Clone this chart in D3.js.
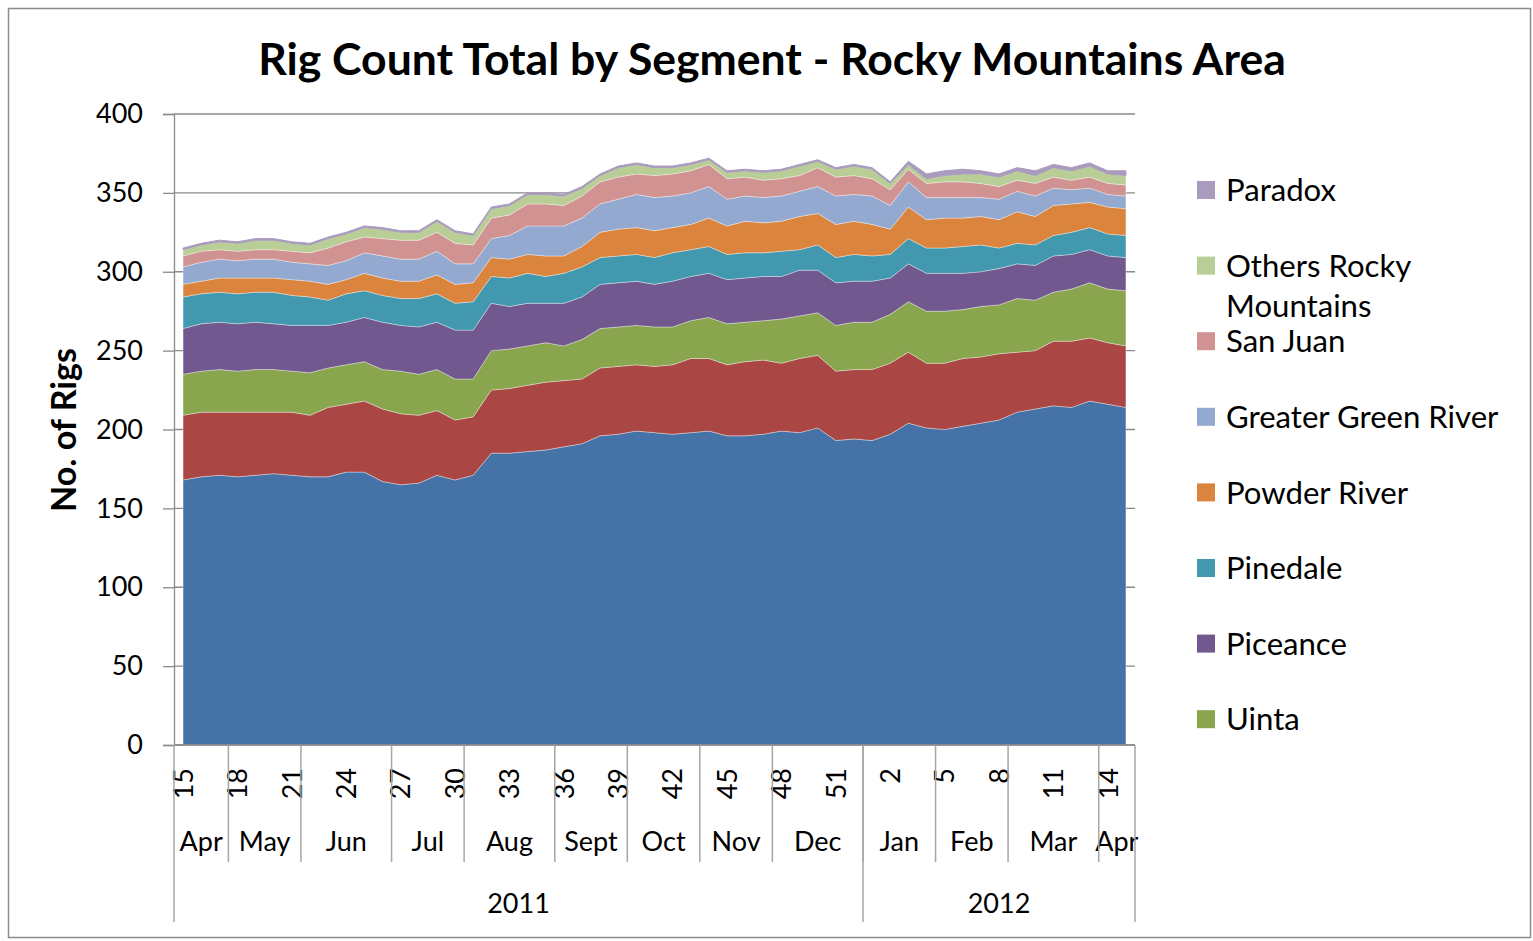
<!DOCTYPE html>
<html><head><meta charset="utf-8">
<script src="https://cdn.jsdelivr.net/npm/d3@7"></script>
<style>
body{margin:0;background:#fff}
text{font-family:Lato,"Open Sans",sans-serif;fill:#000}
</style>
</head><body>
<svg id="c" width="1533" height="941"></svg>
<script>
// ---- category labels ----
const weeks = [15,16,17,18,19,20,21,22,23,24,25,26,27,28,29,30,31,32,33,34,35,36,37,38,39,40,41,42,43,44,45,46,47,48,49,50,51,52,
               1,2,3,4,5,6,7,8,9,10,11,12,13,14,15];
const months = ["Apr","May","Jun","Jul","Aug","Sept","Oct","Nov","Dec","Jan","Feb","Mar","Apr"];
const monthSpans = [3,4,5,4,5,4,4,4,5,4,4,5,2];
const years = ["2011","2012"];
const yearSpans = [38,15];
const yTicks = [0,50,100,150,200,250,300,350,400];

// ---- series values (rigs) ----
const williston = [168,170,171,170,171,172,171,170,170,173,173,167,165,166,171,168,171,185,185,186,187,189,191,196,197,199,198,197,198,199,196,196,197,199,198,201,193,194,193,197,204,201,200,202,204,206,211,213,215,214,218,216,214];
const djNiobrara = [41,41,40,41,40,39,40,39,44,43,45,46,45,43,41,38,37,40,41,42,43,42,41,43,43,42,42,44,47,46,45,47,47,43,47,46,44,44,45,45,45,41,42,43,42,42,38,37,41,42,40,39,39];
const uinta = [26,26,27,26,27,27,26,27,25,25,25,25,27,26,26,26,24,25,25,25,25,22,25,25,25,25,25,24,24,26,26,25,25,28,27,27,29,30,30,31,32,33,33,31,32,31,34,32,31,33,35,34,35];
const piceance = [29,30,30,30,30,29,29,30,27,27,28,30,29,30,30,31,31,30,27,27,25,27,27,28,28,28,27,29,28,28,28,28,28,27,29,27,27,26,26,23,24,24,24,23,22,23,22,22,23,22,21,21,21];
const pinedale = [20,19,19,19,19,20,19,18,16,18,17,17,17,18,18,17,18,17,18,19,17,19,19,17,17,17,17,18,17,17,16,16,15,16,13,16,16,17,16,15,16,16,16,17,17,13,13,13,13,14,14,14,14];
const powderRiver = [8,8,9,10,9,9,10,10,10,9,11,11,11,11,12,12,12,12,12,12,13,11,13,16,17,17,17,16,16,18,18,20,19,19,21,20,21,21,20,16,20,18,19,18,18,18,20,18,19,18,16,17,17];
const greaterGreenRiver = [11,12,12,11,12,12,11,11,12,12,13,14,14,14,15,13,12,12,15,18,19,19,18,18,19,21,21,20,20,20,17,16,16,16,16,17,18,17,18,15,16,14,13,13,12,13,13,13,11,9,9,8,8];
const sanJuan = [7,7,6,6,6,6,7,7,11,12,10,11,12,12,12,13,12,13,13,14,14,13,14,14,14,13,14,14,14,14,13,12,11,11,10,12,12,12,11,10,8,9,10,10,9,8,7,8,7,6,7,7,7];
const othersRocky = [4,4,5,5,6,6,5,5,6,5,6,6,5,5,7,7,6,6,6,6,6,6,5,4,6,6,5,4,4,3,4,4,5,5,6,4,5,6,6,4,3,3,4,5,6,6,6,5,6,6,7,6,6];
const paradox = [1,1,1,1,1,1,1,1,1,1,1,1,1,1,1,1,1,1,1,1,1,1,1,1,1,1,1,1,1,1,1,1,1,1,1,1,1,1,1,1,2,3,3,3,2,2,2,3,2,2,2,2,3];

const seriesNames = ["Williston","DJ-Niobrara","Uinta","Piceance","Pinedale","Powder River","Greater Green River","San Juan","Others Rocky Mountains","Paradox"];
const seriesValues = [williston,djNiobrara,uinta,piceance,pinedale,powderRiver,greaterGreenRiver,sanJuan,othersRocky,paradox];
const colors = ["#4572A7","#AA4643","#89A54E","#71588F","#4198AF","#DB843D","#93A9CF","#D19392","#B9CD96","#A99BBD"];
const legendNames = ["Paradox","Others Rocky Mountains","San Juan","Greater Green River","Powder River","Pinedale","Piceance","Uinta"];

// ---- build table ----
const table = weeks.map((w,i)=>{
  const r = {i:i, week:w};
  seriesNames.forEach((n,k)=>{ r[n] = seriesValues[k][i]; });
  return r;
});
const color = d3.scaleOrdinal().domain(seriesNames).range(colors);

const svg = d3.select("#c");
const L=174, R=1135, T=114, B=745;
const x = d3.scalePoint().domain(d3.range(weeks.length)).range([L,R]).padding(0.5);
const step = x.step();
const y = d3.scaleLinear().domain([0,400]).range([B,T]);
const axisCol = "#8a8a8a";

function fit(sel, target){
  const len = sel.node().getComputedTextLength();
  const fs = parseFloat(sel.attr("font-size"));
  sel.attr("font-size", fs*target/len);
}

// frame
svg.append("rect").attr("x",8.5).attr("y",8.5).attr("width",1522).attr("height",929)
  .attr("fill","none").attr("stroke","#8c8c8c").attr("stroke-width",1.5);

// title
const title = svg.append("text").attr("x",772).attr("y",75).attr("text-anchor","middle")
  .attr("font-weight","bold").attr("font-size",42).text("Rig Count Total by Segment - Rocky Mountains Area");
fit(title, 1028);

// gridlines
svg.append("g").selectAll("line").data(yTicks).join("line")
  .attr("x1",L).attr("x2",R).attr("y1",d=>y(d)).attr("y2",d=>y(d))
  .attr("stroke",axisCol).attr("stroke-width",1.3);

// stacked areas
const stack = d3.stack().keys(seriesNames);
const layers = stack(table);
const area = d3.area().x(d=>x(d.data.i)).y0(d=>y(d[0])).y1(d=>y(d[1]));
svg.append("g").selectAll("path").data(layers).join("path")
  .attr("d",area).attr("fill",d=>color(d.key))
  .attr("stroke",d=>d.key==="Paradox"? "#A99BBD" : "rgba(255,255,255,0.35)")
  .attr("stroke-width",1);

// y axis
const yAxis = svg.append("g").attr("transform",`translate(${L},0)`)
  .call(d3.axisLeft(y).tickValues(yTicks).tickSize(11).tickPadding(20));
yAxis.select(".domain").attr("stroke",axisCol).attr("stroke-width",1.3);
yAxis.selectAll(".tick line").attr("stroke",axisCol).attr("stroke-width",1.3);
yAxis.selectAll(".tick text").attr("font-size",27).attr("font-family","Lato").attr("fill","#000");

// y title
const yt = svg.append("text").attr("transform","translate(76,430) rotate(-90)")
  .attr("text-anchor","middle").attr("font-weight","bold").attr("font-size",30).text("No. of Rigs");
fit(yt, 164);

// x axis line
svg.append("line").attr("x1",L).attr("x2",R).attr("y1",B).attr("y2",B)
  .attr("stroke",axisCol).attr("stroke-width",1.3);

// week labels
svg.append("g").selectAll("text").data(table.filter(d=>d.i%3===0)).join("text")
  .attr("transform",d=>`translate(${x(d.i)},768) rotate(-90)`)
  .attr("text-anchor","end").attr("dy","0.36em").attr("font-size",27).text(d=>d.week);

// month groups
let acc = 0;
const mg = svg.append("g");
months.forEach((m,k)=>{
  const x0 = L + acc*step, x1 = L + (acc+monthSpans[k])*step;
  mg.append("text").attr("x",(x0+x1)/2).attr("y",851).attr("text-anchor","middle").attr("font-size",27).text(m);
  if(k>0) mg.append("line").attr("x1",x0).attr("x2",x0).attr("y1",B).attr("y2",862)
    .attr("stroke","#a6a6a6").attr("stroke-width",1.5);
  acc += monthSpans[k];
});
// year groups
acc = 0;
const yg = svg.append("g");
yg.append("line").attr("x1",L).attr("x2",L).attr("y1",B).attr("y2",922).attr("stroke","#a6a6a6").attr("stroke-width",1.5);
years.forEach((yr,k)=>{
  const x0 = L + acc*step, x1 = L + (acc+yearSpans[k])*step;
  yg.append("text").attr("x",(x0+x1)/2).attr("y",913).attr("text-anchor","middle").attr("font-size",27).text(yr);
  yg.append("line").attr("x1",x1).attr("x2",x1).attr("y1",B).attr("y2",922).attr("stroke","#a6a6a6").attr("stroke-width",1.5);
  acc += yearSpans[k];
});

// legend
const lg = svg.append("g");
const probe = lg.append("text").attr("font-size",31).text("Greater Green River");
const legFs = 0.97*31*281/probe.node().getComputedTextLength();
probe.remove();
legendNames.forEach((n,k)=>{
  const cy = 190 + k*75.6;
  lg.append("rect").attr("x",1197).attr("y",cy-9).attr("width",18).attr("height",18).attr("fill",color(n));
  if(n==="Others Rocky Mountains"){
    lg.append("text").attr("x",1226).attr("y",cy+0.36*legFs).attr("font-size",legFs).text("Others Rocky");
    lg.append("text").attr("x",1226).attr("y",cy+40+0.36*legFs).attr("font-size",legFs).text("Mountains");
  } else {
    lg.append("text").attr("x",1226).attr("y",cy+0.36*legFs).attr("font-size",legFs).text(n);
  }
});
</script>
</body></html>
